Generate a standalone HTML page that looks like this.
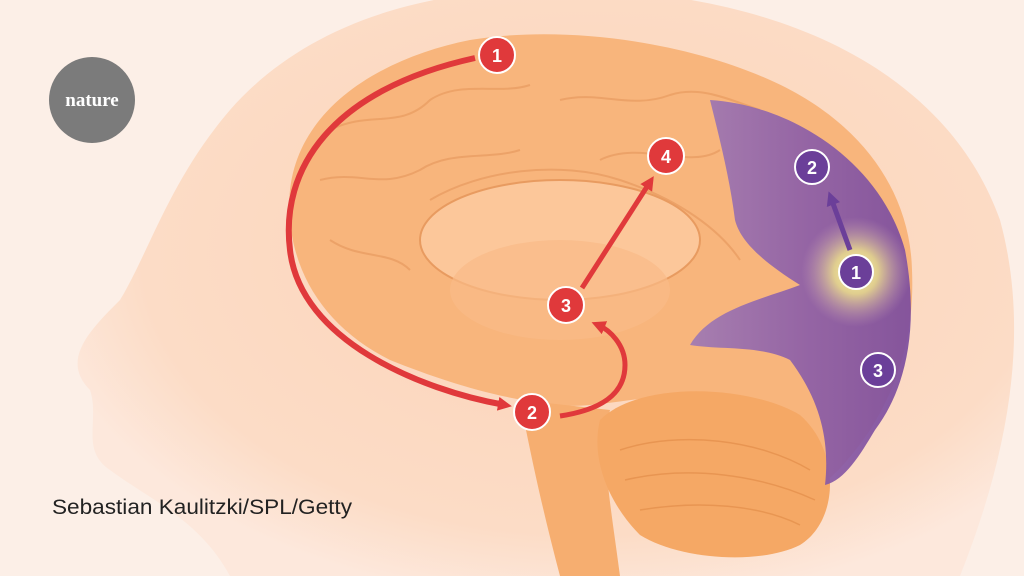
<!DOCTYPE html>
<html><head><meta charset="utf-8"><style>
html,body{margin:0;padding:0;width:1024px;height:576px;overflow:hidden;background:#fcefe7}
svg{display:block}
</style></head><body>
<svg width="1024" height="576" viewBox="0 0 1024 576" xmlns="http://www.w3.org/2000/svg">
<defs>
<radialGradient id="glow" cx="0.5" cy="0.5" r="0.5">
<stop offset="0" stop-color="#fffbb0" stop-opacity="1"/>
<stop offset="0.4" stop-color="#f4e98a" stop-opacity="0.8"/>
<stop offset="1" stop-color="#c9a0b8" stop-opacity="0"/>
</radialGradient>
<radialGradient id="head" cx="0.55" cy="0.45" r="0.6">
<stop offset="0" stop-color="#fbd3b8"/>
<stop offset="0.8" stop-color="#fcdcc6"/>
<stop offset="1" stop-color="#fde8dc"/>
</radialGradient>
<linearGradient id="purp" x1="0" y1="0" x2="1" y2="0">
<stop offset="0" stop-color="#a07ab4"/>
<stop offset="0.5" stop-color="#8d5fa8"/>
<stop offset="1" stop-color="#7b4c9e"/>
</linearGradient>
<marker id="ap" markerWidth="14" markerHeight="14" refX="7" refY="7" orient="auto" markerUnits="userSpaceOnUse">
<path d="M0,0 L14,7 L0,14 z" fill="#6b3f99"/></marker>
<marker id="ar2" markerWidth="14" markerHeight="14" refX="7" refY="7" orient="auto" markerUnits="userSpaceOnUse">
<path d="M0,0 L14,7 L0,14 z" fill="#e0393b"/></marker>
</defs>
<path d="M230 576 C200 520 150 500 110 470 C80 450 100 420 90 390 C60 360 90 330 120 300 C150 250 170 180 230 110 C300 30 420 -20 600 -10 C800 0 950 80 1000 220 C1030 330 1010 450 960 576 Z" fill="url(#head)"/>
<path d="M290 220 C280 120 370 60 470 40 C560 25 680 40 770 80 C860 120 910 190 912 270 C915 340 895 390 870 430 C850 460 830 480 820 485 C780 470 740 430 700 400 C650 390 600 410 560 405 C500 400 440 380 390 360 C330 330 295 280 290 220 Z" fill="#f8b57c"/>
<g fill="none" stroke="#e89b60" stroke-width="2" opacity="0.7">
<path d="M330 130 C370 110 400 130 430 100 C460 80 500 95 530 85"/>
<path d="M320 180 C360 170 380 190 420 170 C450 150 490 160 520 150"/>
<path d="M560 100 C600 90 630 110 670 95 C700 85 730 100 760 110"/>
<path d="M600 160 C640 140 690 170 720 150"/>
<path d="M330 240 C360 260 390 250 410 270"/>
<path d="M430 200 C480 170 560 160 620 180 C680 200 720 230 740 260"/>
</g>
<ellipse cx="560" cy="240" rx="140" ry="60" fill="#fcc79a" stroke="#e89b60" stroke-width="2"/>
<ellipse cx="560" cy="290" rx="110" ry="50" fill="#f9bb88" opacity="0.7"/>
<path d="M520 400 C530 450 540 500 560 576 L620 576 C610 500 600 450 610 410 Z" fill="#f6ae70"/>
<path d="M600 420 C640 380 750 385 800 415 C840 450 840 520 800 545 C760 565 680 560 640 535 C610 505 590 460 600 420 Z" fill="#f5a865"/>
<g fill="none" stroke="#e38e4a" stroke-width="1.5" opacity="0.7">
<path d="M620 450 C680 430 760 440 810 470"/>
<path d="M625 480 C690 465 760 475 815 500"/>
<path d="M640 510 C700 500 760 505 800 525"/>
</g>
<path d="M710 100 C790 105 880 160 905 250 C920 330 905 390 875 430 C860 455 845 480 825 485 C830 440 820 400 790 360 C760 345 720 350 690 345 C710 310 760 300 800 285 C760 260 740 240 735 220 C730 180 720 140 710 100 Z" fill="url(#purp)" opacity="0.92"/>
<circle cx="856" cy="272" r="55" fill="url(#glow)"/>
<path d="M475 58 C330 90 280 170 290 250 C300 340 420 390 505 405" fill="none" stroke="#e0393b" stroke-width="6" marker-end="url(#ar2)"/>
<path d="M560 416 C600 410 625 395 625 365 C625 345 610 330 598 325" fill="none" stroke="#e0393b" stroke-width="5" marker-end="url(#ar2)"/>
<path d="M582 288 L650 182" fill="none" stroke="#e0393b" stroke-width="5" marker-end="url(#ar2)"/>
<path d="M850 250 L831 198" fill="none" stroke="#6b3f99" stroke-width="5" marker-end="url(#ap)"/>
<g font-family="Liberation Sans, sans-serif" font-weight="bold" font-size="18" fill="#fff" text-anchor="middle">
<circle cx="497" cy="55" r="18" fill="#e0393b" stroke="#fff" stroke-width="2"/><text x="497" y="62">1</text>
<circle cx="666" cy="156" r="18" fill="#e0393b" stroke="#fff" stroke-width="2"/><text x="666" y="163">4</text>
<circle cx="566" cy="305" r="18" fill="#e0393b" stroke="#fff" stroke-width="2"/><text x="566" y="312">3</text>
<circle cx="532" cy="412" r="18" fill="#e0393b" stroke="#fff" stroke-width="2"/><text x="532" y="419">2</text>
<circle cx="812" cy="167" r="17" fill="#6b3f99" stroke="#fff" stroke-width="2"/><text x="812" y="174">2</text>
<circle cx="856" cy="272" r="17" fill="#6b3f99" stroke="#fff" stroke-width="2"/><text x="856" y="279">1</text>
<circle cx="878" cy="370" r="17" fill="#6b3f99" stroke="#fff" stroke-width="2"/><text x="878" y="377">3</text>
</g>
<circle cx="92" cy="100" r="43" fill="#7b7b7b"/>
<text x="92" y="106" font-family="Liberation Serif, serif" font-weight="bold" font-size="19" fill="#fff" text-anchor="middle">nature</text>
<text x="52" y="514" font-family="Liberation Sans, sans-serif" font-size="21" fill="#222" textLength="300" lengthAdjust="spacingAndGlyphs">Sebastian Kaulitzki/SPL/Getty</text>
</svg>
</body></html>
